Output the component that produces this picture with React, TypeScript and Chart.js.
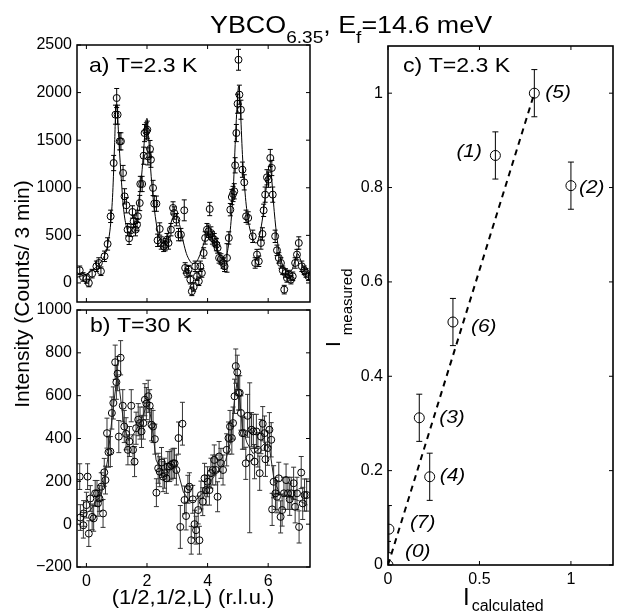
import React, { useEffect, useRef } from 'react';
import { Chart, registerables } from 'chart.js';

Chart.register(...registerables);

const W = 619;
const H = 612;
const FONT = "'Liberation Sans', Arial, Helvetica, sans-serif";

// ---------- Panel a) T=2.3 K ----------
const aL = [-0.22, -0.11, 0.0, 0.08, 0.19, 0.33, 0.41, 0.48, 0.6, 0.7, 0.8, 0.9, 0.96, 1.0, 1.03, 1.1, 1.14, 1.21, 1.26, 1.32, 1.36, 1.41, 1.47, 1.52, 1.56, 1.62, 1.67, 1.7, 1.76, 1.78, 1.84, 1.89, 1.92, 1.98, 2.01, 2.03, 2.1, 2.13, 2.2, 2.24, 2.31, 2.35, 2.42, 2.47, 2.55, 2.6, 2.66, 2.71, 2.79, 2.86, 2.9, 2.97, 3.04, 3.12, 3.23, 3.26, 3.32, 3.37, 3.43, 3.48, 3.54, 3.59, 3.65, 3.71, 3.76, 3.81, 3.87, 3.92, 3.98, 4.03, 4.07, 4.11, 4.16, 4.22, 4.29, 4.33, 4.38, 4.44, 4.51, 4.56, 4.64, 4.7, 4.75, 4.8, 4.84, 4.88, 4.91, 4.95, 4.99, 5.05, 5.1, 5.15, 5.21, 5.27, 5.34, 5.49, 5.57, 5.63, 5.69, 5.76, 5.81, 5.85, 5.9, 5.96, 6.01, 6.07, 6.12, 6.15, 6.23, 6.29, 6.35, 6.42, 6.48, 6.53, 6.57, 6.62, 6.68, 6.75, 6.81, 6.89, 6.95, 7.01, 7.11, 7.19, 7.25, 7.33, 5.02];
const aI = [133, 63, 42, 0, 98, 175, 210, 123, 280, 410, 700, 1260, 1768, 1943, 1768, 1488, 1488, 1155, 910, 816, 560, 469, 553, 746, 648, 560, 613, 700, 840, 1040, 1040, 1337, 1575, 1593, 1610, 1330, 1407, 1295, 998, 833, 833, 448, 567, 420, 385, 403, 455, 420, 560, 788, 735, 665, 508, 508, 763, 158, 105, 140, 35, -88, -42, 175, 70, 18, 175, 105, 315, 473, 560, 543, 777, 525, 473, 455, 403, 368, 263, 252, 210, 175, 263, 473, 770, 903, 935, 963, 1236, 1575, 1883, 1978, 1820, 1190, 1057, 700, 683, 490, 210, 298, 228, 420, 515, 763, 928, 1110, 1085, 1313, 1208, 928, 490, 343, 263, 210, 133, -70, 105, 53, 88, 35, 70, 210, 298, 420, 175, 133, 105, 70, 2345];
const aErr = [45, 45, 45, 40, 45, 55, 55, 45, 55, 65, 65, 80, 100, 100, 100, 90, 90, 80, 80, 80, 65, 65, 65, 65, 65, 65, 65, 65, 80, 80, 80, 90, 90, 90, 90, 90, 90, 80, 80, 80, 80, 65, 65, 65, 55, 65, 65, 65, 65, 65, 65, 65, 65, 65, 110, 55, 45, 45, 45, 45, 45, 55, 45, 45, 55, 45, 55, 65, 65, 65, 70, 65, 65, 65, 65, 55, 55, 55, 55, 55, 150, 65, 65, 80, 80, 80, 80, 90, 100, 100, 100, 80, 80, 65, 65, 65, 55, 55, 55, 65, 65, 65, 80, 80, 80, 90, 80, 80, 65, 55, 55, 55, 45, 45, 45, 45, 45, 45, 45, 55, 55, 65, 55, 45, 45, 45, 110];
const fitAL = [-0.31, -0.1, 0.1, 0.3, 0.5, 0.6, 0.7, 0.8, 0.87, 0.93, 0.98, 1.03, 1.08, 1.15, 1.22, 1.3, 1.4, 1.5, 1.6, 1.7, 1.8, 1.88, 1.95, 2.0, 2.05, 2.12, 2.2, 2.3, 2.4, 2.5, 2.6, 2.7, 2.8, 2.9, 2.95, 3.0, 3.1, 3.2, 3.3, 3.4, 3.5, 3.6, 3.7, 3.8, 3.9, 4.0, 4.05, 4.15, 4.3, 4.45, 4.55, 4.65, 4.75, 4.85, 4.93, 5.0, 5.03, 5.08, 5.15, 5.25, 5.35, 5.5, 5.6, 5.7, 5.8, 5.9, 6.0, 6.05, 6.1, 6.2, 6.3, 6.4, 6.5, 6.6, 6.7, 6.8, 6.9, 6.97, 7.05, 7.15, 7.25, 7.38];
const fitAI = [60, 80, 110, 160, 230, 290, 400, 620, 950, 1450, 1870, 1750, 1450, 1100, 800, 620, 530, 560, 650, 800, 1050, 1350, 1650, 1730, 1550, 1200, 900, 640, 470, 420, 440, 520, 640, 720, 730, 700, 580, 430, 310, 240, 205, 210, 260, 340, 440, 510, 520, 480, 360, 260, 250, 320, 560, 1000, 1600, 2000, 2070, 1850, 1350, 900, 640, 460, 420, 480, 650, 900, 1180, 1250, 1150, 750, 450, 270, 170, 120, 110, 150, 250, 310, 260, 170, 110, 80];

// ---------- Panel b) T=30 K ----------
const bL = [-0.22, -0.2, -0.1, -0.09, 0.0, 0.04, 0.08, 0.13, 0.19, 0.24, 0.29, 0.35, 0.38, 0.43, 0.49, 0.55, 0.59, 0.63, 0.68, 0.73, 0.79, 0.84, 0.89, 0.95, 0.99, 1.03, 1.07, 1.13, 1.2, 1.25, 1.31, 1.37, 1.42, 1.48, 1.54, 1.59, 1.64, 1.71, 1.77, 1.82, 1.88, 1.93, 1.98, 2.04, 2.09, 2.15, 2.2, 2.26, 2.31, 2.37, 2.42, 2.48, 2.53, 2.58, 2.64, 2.69, 2.75, 2.8, 2.86, 2.91, 2.97, 3.04, 3.1, 3.17, 3.24, 3.29, 3.35, 3.4, 3.46, 3.51, 3.57, 3.62, 3.69, 3.73, 3.78, 3.84, 3.9, 3.95, 4.0, 4.06, 4.11, 4.17, 4.22, 4.27, 4.33, 4.38, 4.44, 4.51, 4.63, 4.69, 4.74, 4.8, 4.84, 4.89, 4.93, 4.98, 5.02, 5.06, 5.1, 5.15, 5.2, 5.26, 5.32, 5.39, 5.45, 5.51, 5.55, 5.61, 5.66, 5.72, 5.76, 5.82, 5.88, 5.91, 5.98, 6.04, 6.1, 6.13, 6.18, 6.24, 6.29, 6.35, 6.41, 6.46, 6.52, 6.59, 6.65, 6.71, 6.76, 6.84, 6.89, 6.95, 7.02, 7.09, 7.14, 7.2, 7.27];
const bI = [222, 31, -5, 50, 89, 222, -44, 120, 34, 27, 144, 144, 97, 120, 175, 50, 242, 206, 425, 336, 339, 519, 566, 756, 663, 703, 409, 777, 553, 456, 422, 347, 386, 553, 347, 292, 448, 488, 472, 433, 472, 581, 563, 597, 553, 464, 456, 397, 147, 261, 245, 288, 222, 238, 214, 269, 269, 277, 284, 284, 253, 402, -13, 469, 113, 38, 163, 175, -75, 116, 0, -28, 66, -75, 136, 105, 214, 159, 198, 159, 238, 253, 300, 253, 128, 316, 284, 253, 347, 402, 456, 402, 472, 597, 738, 709, 613, 613, 519, 425, 425, 284, 506, 310, 441, 433, 292, 433, 347, 238, 409, 469, 425, 303, 355, 441, 394, 69, 198, 144, 128, 214, 34, 66, 144, 206, 144, 116, 144, 191, 81, 144, -13, 241, 97, 136, 136];
const bErr = [60, 60, 60, 60, 60, 60, 60, 60, 60, 60, 60, 60, 60, 60, 65, 65, 65, 65, 70, 70, 70, 75, 75, 80, 80, 80, 75, 80, 75, 75, 75, 70, 70, 75, 70, 70, 75, 75, 75, 75, 75, 75, 75, 75, 75, 75, 75, 70, 65, 70, 70, 70, 70, 70, 70, 70, 70, 70, 70, 70, 70, 75, 100, 100, 65, 65, 65, 65, 65, 65, 65, 65, 65, 65, 65, 65, 70, 70, 70, 70, 70, 70, 70, 70, 70, 70, 70, 70, 75, 75, 75, 75, 75, 80, 80, 80, 80, 80, 80, 75, 75, 75, 100, 350, 80, 80, 80, 80, 80, 80, 80, 80, 80, 80, 80, 80, 80, 75, 75, 75, 75, 75, 75, 75, 75, 75, 75, 75, 75, 75, 75, 75, 75, 75, 75, 75, 75];
const lineBL = [-0.1, 0.1, 0.3, 0.5, 0.7, 0.85, 0.95, 1.02, 1.1, 1.25, 1.4, 1.6, 1.8, 1.95, 2.05, 2.15, 2.3, 2.5, 2.7, 2.9, 3.05, 3.2, 3.4, 3.6, 3.8, 4.0, 4.2, 4.4, 4.6, 4.75, 4.9, 4.97, 5.05, 5.15, 5.3, 5.5, 5.7, 5.9, 6.05, 6.2, 6.4, 6.6, 6.8, 7.0, 7.3];
const lineBI = [50, 60, 100, 140, 300, 500, 620, 700, 620, 450, 390, 430, 480, 540, 560, 480, 300, 240, 240, 280, 230, 150, 110, 110, 140, 180, 220, 260, 300, 380, 600, 660, 600, 450, 380, 330, 350, 380, 350, 200, 140, 130, 120, 110, 90];

// ---------- Panel c) T=2.3 K ----------
const cCalc = [0, 0.005, 0.171, 0.228, 0.355, 0.587, 0.8, 1.0];
const cMeas = [0, 0.076, 0.312, 0.187, 0.515, 0.868, 1.0, 0.804];
const cErr = [0.05, 0.05, 0.05, 0.05, 0.05, 0.05, 0.05, 0.05];
const cNames = ['(0)', '(7)', '(3)', '(4)', '(6)', '(1)', '(5)', '(2)'];
const cLineX = [0, 0.8];
const cLineY = [0, 1.0];

// tick values
const xTicksAB = [0, 2, 4, 6];
const yTicksA = [0, 500, 1000, 1500, 2000, 2500];
const yTicksB = [-200, 0, 200, 400, 600, 800, 1000];
const xTicksC = [0, 0.5, 1];
const yTicksC = [0, 0.2, 0.4, 0.6, 0.8, 1];

// label offsets (pixels) for panel c labels, styling only
const cLabelDx = [17, 21, 20, 10, 18, -39, 11, 8];
const cLabelDy = [-8, -1, 5, 4, 10, 2, 5, 7];

const pts = (xs: number[], ys: number[]) => xs.map((x, i) => ({ x, y: ys[i] }));

type Seg = { t: string; size: number; dy?: number; dx?: number; italic?: boolean };

function drawRich(ctx: CanvasRenderingContext2D, x: number, y: number, segs: Seg[], align: 'left' | 'center' = 'left', rotate = false, sx = 1) {
  ctx.save();
  ctx.translate(x, y);
  if (rotate) ctx.rotate(-Math.PI / 2);
  ctx.scale(sx, 1);
  const font = (s: Seg) => `${s.italic ? 'italic ' : ''}${s.size}px ${FONT}`;
  let total = 0;
  for (const s of segs) {
    ctx.font = font(s);
    total += (s.dx || 0) + ctx.measureText(s.t).width;
  }
  let cx = align === 'center' ? -total / 2 : 0;
  ctx.textAlign = 'left';
  ctx.textBaseline = 'alphabetic';
  ctx.fillStyle = '#000';
  for (const s of segs) {
    ctx.font = font(s);
    cx += s.dx || 0;
    ctx.fillText(s.t, cx, s.dy || 0);
    cx += ctx.measureText(s.t).width;
  }
  ctx.restore();
}

function makeScale(min: number, max: number, ticks: number[], showLabels: boolean, size: number, axis: 'x' | 'y') {
  return {
    type: 'linear' as const,
    min,
    max,
    grid: { display: false, drawTicks: false },
    border: { display: false },
    afterBuildTicks: (s: any) => {
      s.ticks = ticks.map((v) => ({ value: v }));
    },
    afterFit: (s: any) => {
      if (axis === 'x') s.height = size;
      else s.width = size;
    },
    ticks: {
      display: showLabels,
      autoSkip: false,
      maxRotation: 0,
      padding: 5,
      color: '#000',
      font: { family: FONT, size: 16 },
      callback: (v: any) => {
        const n = Number(v);
        return n < 0 ? '\u2212' + String(Math.abs(n)) : String(n);
      },
    },
  };
}

function framePlugin(xt: number[], yt: number[], lw: number, len: number) {
  return {
    id: 'frame',
    afterDatasetsDraw(chart: any) {
      const { ctx, chartArea: ca, scales } = chart;
      ctx.save();
      ctx.strokeStyle = '#000';
      ctx.lineWidth = lw;
      ctx.strokeRect(ca.left, ca.top, ca.right - ca.left, ca.bottom - ca.top);
      ctx.lineWidth = 1;
      ctx.beginPath();
      for (const v of xt) {
        const p = scales.x.getPixelForValue(v);
        ctx.moveTo(p, ca.bottom);
        ctx.lineTo(p, ca.bottom - len);
        ctx.moveTo(p, ca.top);
        ctx.lineTo(p, ca.top + len);
      }
      for (const v of yt) {
        const p = scales.y.getPixelForValue(v);
        ctx.moveTo(ca.left, p);
        ctx.lineTo(ca.left + len, p);
        ctx.moveTo(ca.right, p);
        ctx.lineTo(ca.right - len, p);
      }
      ctx.stroke();
      ctx.restore();
    },
  };
}

function errPlugin(xs: number[], ys: number[], es: number[], cap: number, color: string) {
  return {
    id: 'errbars',
    beforeDatasetsDraw(chart: any) {
      const { ctx, chartArea: ca, scales } = chart;
      ctx.save();
      ctx.beginPath();
      ctx.rect(ca.left, ca.top, ca.right - ca.left, ca.bottom - ca.top);
      ctx.clip();
      ctx.strokeStyle = color;
      ctx.lineWidth = 1;
      ctx.beginPath();
      for (let i = 0; i < xs.length; i++) {
        const px = scales.x.getPixelForValue(xs[i]);
        const y1 = scales.y.getPixelForValue(ys[i] - es[i]);
        const y2 = scales.y.getPixelForValue(ys[i] + es[i]);
        ctx.moveTo(px, y1);
        ctx.lineTo(px, y2);
        ctx.moveTo(px - cap, y1);
        ctx.lineTo(px + cap, y1);
        ctx.moveTo(px - cap, y2);
        ctx.lineTo(px + cap, y2);
      }
      ctx.stroke();
      ctx.restore();
    },
  };
}

function textPlugin(draw: (chart: any) => void) {
  return { id: 'texts', afterDraw: (chart: any) => draw(chart) };
}

const baseOptions = (padding: any) => ({
  animation: false as const,
  responsive: false,
  events: [] as any[],
  layout: { padding },
  plugins: { legend: { display: false }, tooltip: { enabled: false } },
});

function cfgA(): any {
  return {
    type: 'scatter',
    data: {
      datasets: [
        { type: 'line', data: pts(fitAL, fitAI), borderColor: '#000', borderWidth: 1, pointRadius: 0, cubicInterpolationMode: 'monotone', fill: false },
        { type: 'scatter', data: pts(aL, aI), pointStyle: 'circle', pointRadius: 3.5, borderColor: '#000', backgroundColor: 'rgba(0,0,0,0)', borderWidth: 1 },
      ],
    },
    options: {
      ...baseOptions({ left: 17, right: 309, top: 45, bottom: 290 }),
      scales: {
        x: makeScale(-0.31, 7.38, xTicksAB, false, 20, 'x'),
        y: makeScale(-200, 2500, yTicksA, true, 60, 'y'),
      },
    },
    plugins: [
      errPlugin(aL, aI, aErr, 2.5, '#000'),
      framePlugin(xTicksAB, yTicksA, 1.5, 4),
      textPlugin((chart) => {
        const ctx = chart.ctx;
        drawRich(ctx, 210, 33, [
          { t: 'YBCO', size: 24 },
          { t: '6.35', size: 17, dy: 10 },
          { t: ', E', size: 24 },
          { t: 'f', size: 17, dy: 10 },
          { t: '=14.6 meV', size: 24 },
        ], 'left', false, 1.12);
        drawRich(ctx, 89, 72, [{ t: 'a) T=2.3 K', size: 21 }], 'left', false, 1.1);
        drawRich(ctx, 29, 294, [{ t: 'Intensity (Counts/ 3 min)', size: 21 }], 'center', true);
      }),
    ],
  };
}

function cfgB(): any {
  return {
    type: 'scatter',
    data: {
      datasets: [
        { type: 'line', data: pts(lineBL, lineBI), borderColor: '#222', borderWidth: 1, pointRadius: 0, tension: 0, fill: false },
        { type: 'scatter', data: pts(bL, bI), pointStyle: 'circle', pointRadius: 3.5, borderColor: '#000', backgroundColor: 'rgba(0,0,0,0)', borderWidth: 1 },
      ],
    },
    options: {
      ...baseOptions({ left: 17, right: 309, top: 310, bottom: 20 }),
      scales: {
        x: makeScale(-0.31, 7.38, xTicksAB, true, 25, 'x'),
        y: makeScale(-200, 1000, yTicksB, true, 60, 'y'),
      },
    },
    plugins: [
      errPlugin(bL, bI, bErr, 2.5, '#333'),
      framePlugin(xTicksAB, yTicksB, 1.5, 4),
      textPlugin((chart) => {
        const ctx = chart.ctx;
        drawRich(ctx, 90, 332, [{ t: 'b) T=30 K', size: 21 }], 'left', false, 1.1);
        drawRich(ctx, 193, 604, [{ t: '(1/2,1/2,L) (r.l.u.)', size: 20 }], 'center', false, 1.1);
      }),
    ],
  };
}

function cfgC(): any {
  return {
    type: 'scatter',
    data: {
      datasets: [
        { type: 'line', data: pts(cLineX, cLineY), borderColor: '#000', borderWidth: 2, borderDash: [6, 5], pointRadius: 0, fill: false },
        { type: 'scatter', data: pts(cCalc, cMeas), pointStyle: 'circle', pointRadius: 5, borderColor: '#000', backgroundColor: 'rgba(0,0,0,0)', borderWidth: 1 },
      ],
    },
    options: {
      ...baseOptions({ left: 338, right: 1, top: 46, bottom: 22 }),
      scales: {
        x: makeScale(0, 1.23, xTicksC, true, 25, 'x'),
        y: makeScale(0, 1.1, yTicksC, true, 50, 'y'),
      },
    },
    plugins: [
      errPlugin(cCalc, cMeas, cErr, 3, '#000'),
      framePlugin(xTicksC, yTicksC, 1.6, 4),
      textPlugin((chart) => {
        const ctx = chart.ctx;
        const { scales } = chart;
        drawRich(ctx, 403, 72, [{ t: 'c) T=2.3 K', size: 21 }], 'left', false, 1.1);
        for (let i = 0; i < cNames.length; i++) {
          const px = scales.x.getPixelForValue(cCalc[i]);
          const py = scales.y.getPixelForValue(cMeas[i]);
          drawRich(ctx, px + cLabelDx[i], py + cLabelDy[i], [{ t: cNames[i], size: 19, italic: true }], 'left', false, 1.1);
        }
        drawRich(ctx, 340, 347, [
          { t: 'I', size: 21 },
          { t: 'measured', size: 15, dy: 12, dx: 6 },
        ], 'left', true);
        drawRich(ctx, 463, 605, [
          { t: 'I', size: 24 },
          { t: 'calculated', size: 16, dy: 6, dx: 2 },
        ]);
      }),
    ],
  };
}

export default function App() {
  const aRef = useRef<HTMLCanvasElement>(null);
  const bRef = useRef<HTMLCanvasElement>(null);
  const cRef = useRef<HTMLCanvasElement>(null);

  useEffect(() => {
    const charts = [
      new Chart(aRef.current as HTMLCanvasElement, cfgA()),
      new Chart(bRef.current as HTMLCanvasElement, cfgB()),
      new Chart(cRef.current as HTMLCanvasElement, cfgC()),
    ];
    return () => charts.forEach((c) => c.destroy());
  }, []);

  const cs: React.CSSProperties = { position: 'absolute', left: 0, top: 0, display: 'block' };
  return (
    <div style={{ position: 'absolute', left: 0, top: 0, width: W, height: H, background: '#fff', overflow: 'hidden' }}>
      <canvas ref={aRef} width={W} height={H} style={cs} />
      <canvas ref={bRef} width={W} height={H} style={cs} />
      <canvas ref={cRef} width={W} height={H} style={cs} />
    </div>
  );
}
